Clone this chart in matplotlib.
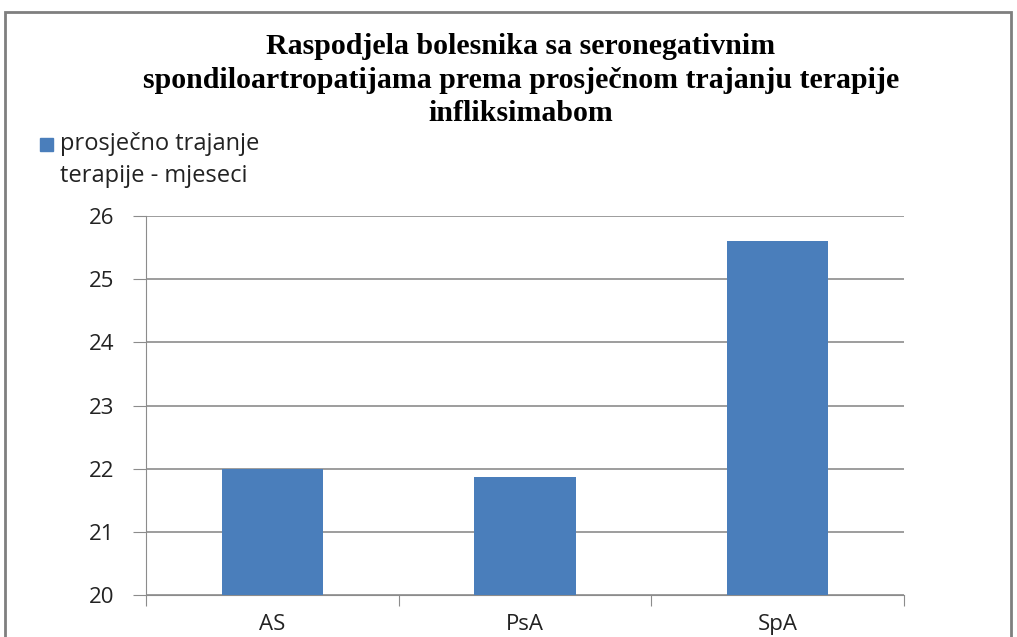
import matplotlib.pyplot as plt
from matplotlib.patches import Rectangle

categories = ["AS", "PsA", "SpA"]
values = [22.0, 21.87, 25.6]
yticks = [20, 21, 22, 23, 24, 25, 26]

title = ("Raspodjela bolesnika sa seronegativnim\n"
         "spondiloartropatijama prema prosječnom trajanju terapije\n"
         "infliksimabom")
legend_label = "prosječno trajanje\nterapije - mjeseci"

bar_color = "#4A7EBB"
grid_color = "#8C8C8C"

fig = plt.figure(figsize=(10.17, 6.37), dpi=100)

# chart border (only left/top/right visible in reference)
fig.patches.append(Rectangle((5 / 1017, -0.05), 1006 / 1017, 1 - 12 / 637 + 0.05,
                             transform=fig.transFigure, fill=False,
                             edgecolor="#7F7F7F", linewidth=2))

ax = fig.add_axes([146 / 1017, 42 / 637, 758 / 1017, 379 / 637])
x = list(range(len(categories)))
bars = ax.bar(x, [v - 20 for v in values], bottom=20, width=0.4,
              color=bar_color, label=legend_label, zorder=3)

ax.set_xlim(-0.5, 2.5)
ax.set_ylim(20, 26)
ax.set_yticks(yticks)
ax.set_yticklabels([str(t) for t in yticks], fontsize=16, family="Open Sans",
                   color="#222222")
ax.yaxis.grid(True, color=grid_color, linewidth=1.2, zorder=0)

# category labels centred, ticks on boundaries
ax.set_xticks([-0.5, 0.5, 1.5, 2.5])
ax.set_xticklabels([])
ax.tick_params(axis="x", length=8, color=grid_color, direction="out")
ax.tick_params(axis="y", length=9.5, color=grid_color, direction="out", pad=13)
for xi, cat in zip(x, categories):
    ax.text(xi, -0.05, cat, transform=ax.get_xaxis_transform(), ha="center",
            va="top", fontsize=16, family="Open Sans", color="#222222")

for side in ["top", "right"]:
    ax.spines[side].set_visible(False)
ax.spines["left"].set_color(grid_color)
ax.spines["bottom"].set_color(grid_color)

fig.text(521 / 1017, 1 - 80 / 637, title, ha="center", va="center",
         fontsize=21.5, fontweight="bold", family="Liberation Serif",
         linespacing=1.32)

# legend
fig.patches.append(Rectangle((40 / 1017, 1 - 151 / 637), 13 / 1017, 13 / 637,
                             transform=fig.transFigure, color=bar_color))
fig.text(60 / 1017, 1 - 160 / 637, legend_label, ha="left", va="center",
         fontsize=17, family="Open Sans", linespacing=1.45, color="#222222")

fig.savefig("out.png", dpi=100)
